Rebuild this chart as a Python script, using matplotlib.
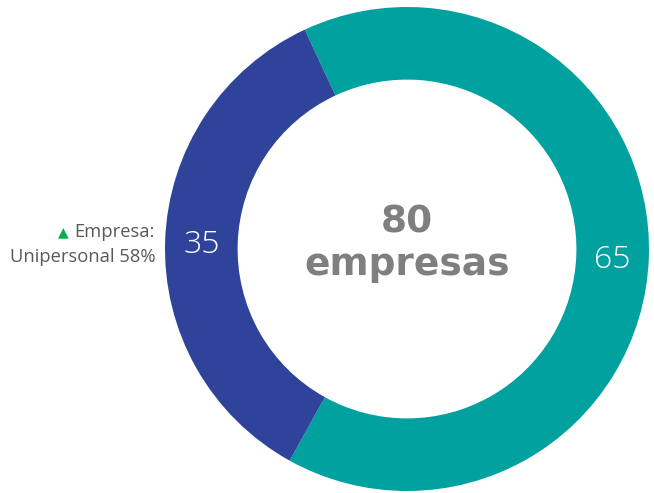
import numpy as np
import matplotlib.pyplot as plt

# Data
labels = ['Otras', 'Unipersonal']
values = [65, 35]
colors = ['#00A19E', '#2E4399']
center_lines = ['80', 'empresas']
note_lines = ['Empresa:', 'Unipersonal 58%']

plt.rcParams['font.family'] = ['Open Sans', 'DejaVu Sans']

fig = plt.figure(figsize=(6.54, 4.93), dpi=100)
ax = fig.add_axes([0, 0, 1, 1])

# donut ring, centre at (407, 249) px, radius 242 px
wedges, _ = ax.pie(values, colors=colors, startangle=115, counterclock=False,
                   radius=1.0, wedgeprops=dict(width=0.3, linewidth=0))
ax.set_aspect('auto')
ax.set_xlim(-407 / 242, 247 / 242)
ax.set_ylim(-244 / 242, 249 / 242)
ax.axis('off')

# value labels inside the ring
for w, v in zip(wedges, values):
    ang = np.deg2rad((w.theta1 + w.theta2) / 2)
    ax.text(0.85 * np.cos(ang), 0.85 * np.sin(ang) - 0.015, str(v),
            ha='center', va='center', color='white', fontsize=23,
            fontweight='light')

# center text
ax.text(0.0, 0.07, center_lines[0], ha='center', va='baseline', color='#7F7F7F',
        fontsize=27, fontweight='bold', family='DejaVu Sans')
ax.text(0.0, -0.107, center_lines[1], ha='center', va='baseline', color='#7F7F7F',
        fontsize=27, fontweight='bold', family='DejaVu Sans')

# side note
ax.text(-1.041, 0.07, note_lines[0], ha='right', va='center', color='#595959',
        fontsize=13.2)
ax.text(-1.041, -0.032, note_lines[1], ha='right', va='center', color='#595959',
        fontsize=13.2)
ax.text(-1.40, 0.07, '\u25B2', ha='right', va='center', color='#00B050',
        fontsize=10, family='DejaVu Sans')

fig.savefig('out.png', dpi=100)
